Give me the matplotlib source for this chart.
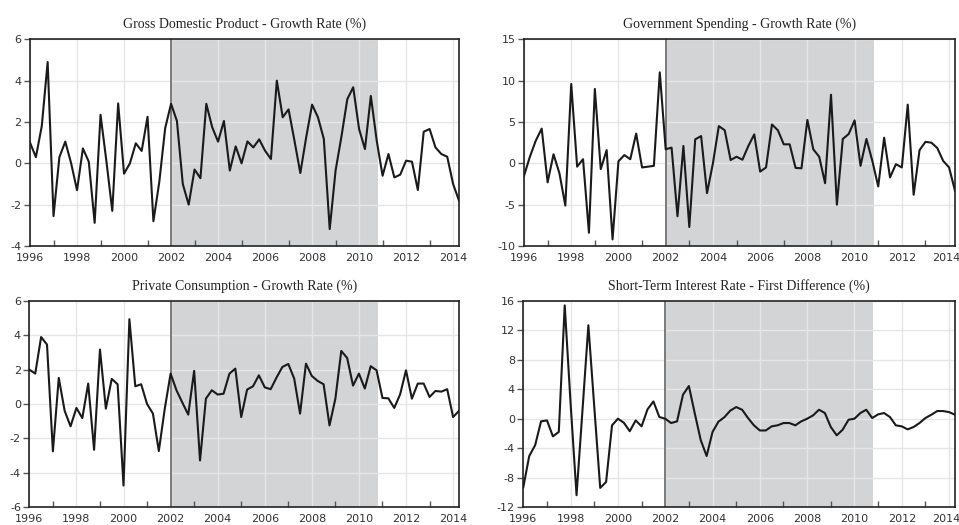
import numpy as np
import matplotlib
matplotlib.use("Agg")
import matplotlib.pyplot as plt
from matplotlib.ticker import MultipleLocator
import matplotlib.transforms as mtransforms

plt.rcParams['axes.unicode_minus'] = False

# Quarterly observations 1996Q1 .. 2014Q2
start_year = 1996.0
n_obs = 74
shade_start = 2002.0
shade_end = 2010.8

gdp = [1.0, 0.3, 1.8, 4.9, -2.55, 0.3, 1.05, 0.0, -1.3, 0.72,
       0.08, -2.88, 2.35, 0.1, -2.3, 2.9, -0.5, 0.0, 0.97, 0.6,
       2.25, -2.8, -0.9, 1.7, 2.88, 2.05, -1.0, -2.0, -0.3, -0.72,
       2.88, 1.75, 1.05, 2.05, -0.35, 0.82, 0.0, 1.06, 0.77, 1.16,
       0.61, 0.21, 4.0, 2.23, 2.61, 1.1, -0.47, 1.26, 2.84, 2.23,
       1.18, -3.18, -0.35, 1.3, 3.11, 3.68, 1.66, 0.69, 3.26, 1.1,
       -0.6, 0.45, -0.68, -0.55, 0.13, 0.08, -1.29, 1.53, 1.66, 0.77,
       0.45, 0.32, -1.0, -1.8]

gov = [-1.5, 0.8, 2.75, 4.2, -2.3, 1.1, -1.2, -5.1, 9.6, -0.4,
       0.5, -8.4, 9.0, -0.7, 1.6, -9.2, 0.25, 1.0, 0.5, 3.6,
       -0.5, -0.4, -0.3, 11.0, 1.7, 1.9, -6.4, 2.1, -7.7, 2.9,
       3.3, -3.6, 0.0, 4.5, 4.0, 0.4, 0.8, 0.44, 2.1, 3.5,
       -1.0, -0.5, 4.7, 4.0, 2.3, 2.3, -0.55, -0.6, 5.25, 1.7,
       0.8, -2.4, 8.3, -5.0, 2.95, 3.55, 5.2, -0.3, 2.95, 0.3,
       -2.8, 3.1, -1.7, -0.1, -0.5, 7.1, -3.8, 1.6, 2.6, 2.5,
       1.86, 0.3, -0.5, -3.3]

cons = [2.0, 1.77, 3.9, 3.46, -2.76, 1.52, -0.4, -1.3, -0.23, -0.82,
        1.19, -2.67, 3.17, -0.27, 1.46, 1.15, -4.75, 4.94, 1.03, 1.15,
        0.0, -0.56, -2.74, -0.3, 1.77, 0.8, 0.08, -0.62, 1.93, -3.29,
        0.31, 0.8, 0.55, 0.6, 1.77, 2.06, -0.76, 0.84, 1.03, 1.67,
        0.97, 0.86, 1.54, 2.16, 2.33, 1.48, -0.56, 2.35, 1.63, 1.34,
        1.15, -1.25, 0.31, 3.09, 2.68, 1.07, 1.77, 0.9, 2.2, 1.96,
        0.35, 0.33, -0.23, 0.56, 1.96, 0.31, 1.19, 1.19, 0.41, 0.76,
        0.72, 0.86, -0.76, -0.4]

rate = [-9.3, -5.07, -3.6, -0.36, -0.23, -2.4, -1.8, 15.4, 2.0, -10.4,
        1.1, 12.7, 1.6, -9.4, -8.6, -0.9, 0.0, -0.55, -1.7, -0.23,
        -1.04, 1.27, 2.35, 0.23, 0.0, -0.59, -0.36, 3.26, 4.44, 0.7,
        -2.9, -5.07, -1.8, -0.4, 0.2, 1.1, 1.58, 1.22, 0.09, -0.9,
        -1.6, -1.6, -1.04, -0.9, -0.59, -0.59, -0.9, -0.36, 0.0, 0.45,
        1.22, 0.77, -1.13, -2.26, -1.5, -0.14, 0.0, 0.77, 1.22, 0.09,
        0.59, 0.77, 0.23, -0.9, -1.04, -1.45, -1.13, -0.59, 0.09, 0.54,
        1.04, 1.04, 0.9, 0.54]

titles = ["Gross Domestic Product - Growth Rate (%)",
          "Government Spending - Growth Rate (%)",
          "Private Consumption - Growth Rate (%)",
          "Short-Term Interest Rate - First Difference (%)"]
ylims = [(-4, 6), (-10, 15), (-6, 6), (-12, 16)]
ysteps = [2, 5, 2, 4]
series = [gdp, gov, cons, rate]
year_labels = list(range(1996, 2015, 2))

dates = start_year + np.arange(n_obs) * 0.25

fig = plt.figure(figsize=(9.59, 5.25), dpi=100)
positions = [
    [0.0313, 0.5314, 0.4473, 0.3937],
    [0.5464, 0.5314, 0.4494, 0.3937],
    [0.0306, 0.0343, 0.4480, 0.3924],
    [0.5457, 0.0343, 0.4501, 0.3924],
]

for k, (pos, title, yl, ys, data) in enumerate(zip(positions, titles, ylims, ysteps, series)):
    ax = fig.add_axes(pos)
    ax.axvspan(shade_start, shade_end, color="#d3d4d6", lw=0, zorder=0.2)
    ax.axvline(shade_start, color="#7a7a7a", lw=1.4, zorder=0.8)
    ax.grid(True, color="#e6e6e6", lw=1.0, zorder=0.5)
    ax.set_axisbelow(True)
    ax.plot(dates, data, color="#1a1a1a", lw=1.5, zorder=3)
    ax.set_xlim(dates[0], dates[-1])
    ax.set_ylim(*yl)
    ax.xaxis.set_minor_locator(MultipleLocator(1))
    ax.yaxis.set_major_locator(MultipleLocator(ys))
    ax.set_xticks(year_labels)
    ax.set_xticklabels([str(y) for y in year_labels])
    ax.tick_params(axis="x", which="major", length=0, pad=5,
                   labelsize=8.0, labelcolor="#333333")
    ax.tick_params(axis="x", which="minor", direction="in", length=4,
                   width=1.0, color="#555555")
    ax.tick_params(axis="y", which="major", direction="out", length=4,
                   width=1.0, color="#555555", pad=2,
                   labelsize=8.0, labelcolor="#333333")
    for lab in ax.get_xticklabels() + ax.get_yticklabels():
        lab.set_family("DejaVu Sans")
    if k % 2 == 1:
        last = ax.get_xticklabels()[-1]
        last.set_transform(last.get_transform() +
                           mtransforms.ScaledTranslation(-3 / 100, 0, fig.dpi_scale_trans))
    for s in ax.spines.values():
        s.set_color("#222222")
        s.set_linewidth(1.2)
    ax.set_title(title, family="Liberation Serif", fontsize=10,
                 color="#222222", pad=8)

fig.savefig("out.png", dpi=100)
